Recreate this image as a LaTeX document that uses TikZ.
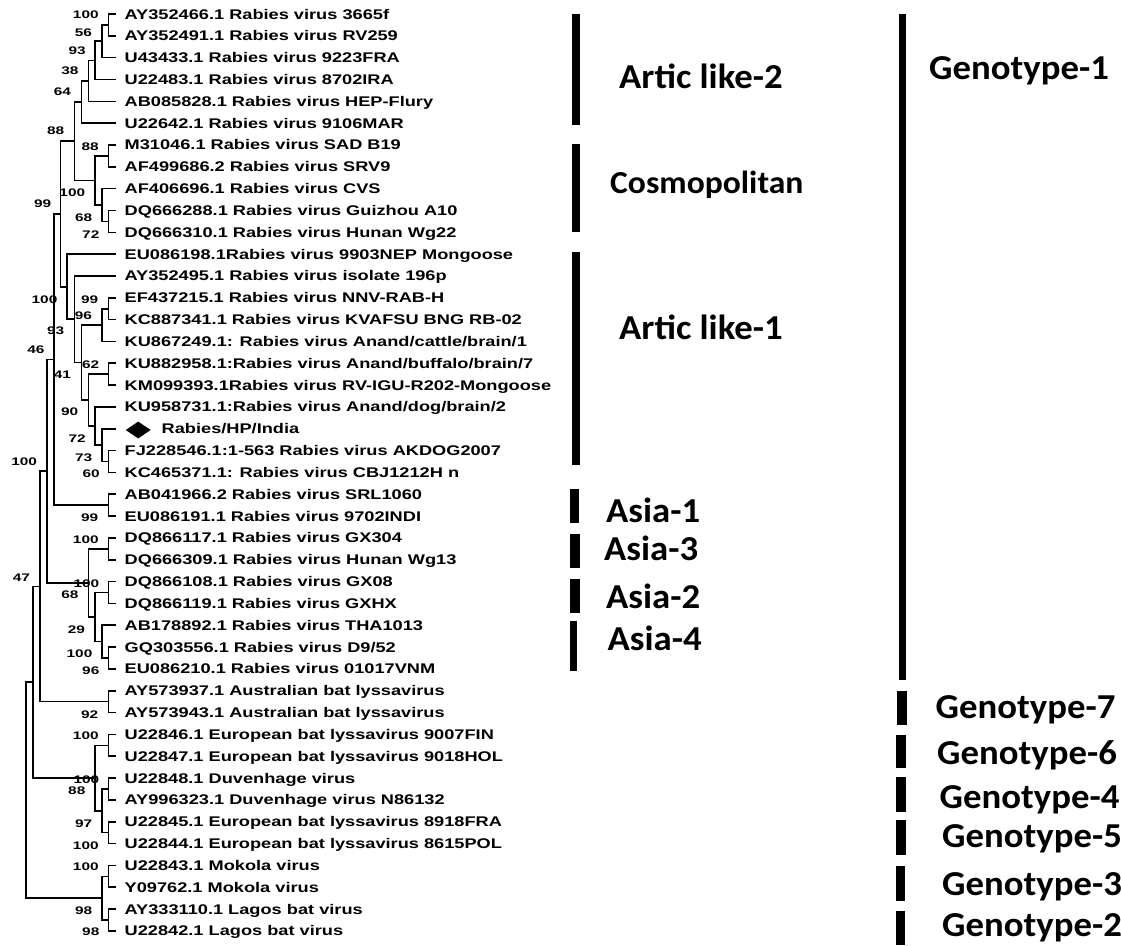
\documentclass[tikz,border=0pt]{standalone}
\usepackage{fontspec}
\newfontfamily\leaffont{Liberation Sans}[FakeStretch=1.3]
\newfontfamily\bootfont{Liberation Sans}[FakeStretch=1.4]
\newfontfamily\cladefont{Carlito}[FakeStretch=1.05]
\usetikzlibrary{shapes.geometric}
\tikzset{
  branch/.style={line width=1.6pt},
  leaf/.style={anchor=west, inner xsep=8.5pt, inner ysep=0pt,
               text height=10pt, text depth=0pt,
               font=\leaffont\bfseries\fontsize{14}{14}\selectfont},
  boot/.style={inner sep=0pt, font=\bootfont\bfseries\fontsize{11}{11}\selectfont},
  cladebar/.style={line width=#1},
  cladelabel/.style={anchor=west, inner sep=0pt, text height=22pt, text depth=0pt,
                     font=\cladefont\bfseries\fontsize{35}{35}\selectfont},
  hpmark/.style={diamond, fill=black, inner sep=0pt,
                 minimum width=25pt, minimum height=17pt},
}

\begin{document}
\begin{tikzpicture}[x=1pt, y=-1pt]
  \useasboundingbox (0,0) rectangle (1121,945);

  \node[leaf] (l1)  at (116,14.00)  {AY352466.1 Rabies virus 3665f};
  \node[leaf] (l2)  at (116,35.83)  {AY352491.1 Rabies virus RV259};
  \node[leaf] (l3)  at (116,57.66)  {U43433.1 Rabies virus 9223FRA};
  \node[leaf] (l4)  at (116,79.49)  {U22483.1 Rabies virus 8702IRA};
  \node[leaf] (l5)  at (116,101.32) {AB085828.1 Rabies virus HEP-Flury};
  \node[leaf] (l6)  at (116,123.15) {U22642.1 Rabies virus 9106MAR};
  \node[leaf] (l7)  at (116,144.98) {M31046.1 Rabies virus SAD B19};
  \node[leaf] (l8)  at (116,166.81) {AF499686.2 Rabies virus SRV9};
  \node[leaf] (l9)  at (116,188.64) {AF406696.1 Rabies virus CVS};
  \node[leaf] (l10) at (116,210.47) {DQ666288.1 Rabies virus Guizhou A10};
  \node[leaf] (l11) at (116,232.30) {DQ666310.1 Rabies virus Hunan Wg22};
  \node[leaf] (l12) at (116,254.13) {EU086198.1Rabies virus 9903NEP Mongoose};
  \node[leaf] (l13) at (116,275.96) {AY352495.1 Rabies virus isolate 196p};
  \node[leaf] (l14) at (116,297.79) {EF437215.1 Rabies virus NNV-RAB-H};
  \node[leaf] (l15) at (116,319.62) {KC887341.1 Rabies virus KVAFSU BNG RB-02};
  \node[leaf] (l16) at (116,341.45) {KU867249.1: Rabies virus Anand/cattle/brain/1};
  \node[leaf] (l17) at (116,363.28) {KU882958.1:Rabies virus Anand/buffalo/brain/7};
  \node[leaf] (l18) at (116,385.11) {KM099393.1Rabies virus RV-IGU-R202-Mongoose};
  \node[leaf] (l19) at (116,406.94) {KU958731.1:Rabies virus Anand/dog/brain/2};
  \coordinate (t20) at (116,428.77);
  \node[hpmark] (hp) at (138.2,430) {};
  \node[leaf, inner xsep=0pt] (l20) at (161.5,428.77) {Rabies/HP/India};
  \node[leaf] (l21) at (116,450.60) {FJ228546.1:1-563 Rabies virus AKDOG2007};
  \node[leaf] (l22) at (116,472.43) {KC465371.1: Rabies virus CBJ1212H n};
  \node[leaf] (l23) at (116,494.26) {AB041966.2 Rabies virus SRL1060};
  \node[leaf] (l24) at (116,516.09) {EU086191.1 Rabies virus 9702INDI};
  \node[leaf] (l25) at (116,537.92) {DQ866117.1 Rabies virus GX304};
  \node[leaf] (l26) at (116,559.75) {DQ666309.1 Rabies virus Hunan Wg13};
  \node[leaf] (l27) at (116,581.58) {DQ866108.1 Rabies virus GX08};
  \node[leaf] (l28) at (116,603.41) {DQ866119.1 Rabies virus GXHX};
  \node[leaf] (l29) at (116,625.24) {AB178892.1 Rabies virus THA1013};
  \node[leaf] (l30) at (116,647.07) {GQ303556.1 Rabies virus D9/52};
  \node[leaf] (l31) at (116,668.90) {EU086210.1 Rabies virus 01017VNM};
  \node[leaf] (l32) at (116,690.73) {AY573937.1 Australian bat lyssavirus};
  \node[leaf] (l33) at (116,712.56) {AY573943.1 Australian bat lyssavirus};
  \node[leaf] (l34) at (116,734.39) {U22846.1 European bat lyssavirus 9007FIN};
  \node[leaf] (l35) at (116,756.22) {U22847.1 European bat lyssavirus 9018HOL};
  \node[leaf] (l36) at (116,778.05) {U22848.1 Duvenhage virus};
  \node[leaf] (l37) at (116,799.88) {AY996323.1 Duvenhage virus N86132};
  \node[leaf] (l38) at (116,821.71) {U22845.1 European bat lyssavirus 8918FRA};
  \node[leaf] (l39) at (116,843.54) {U22844.1 European bat lyssavirus 8615POL};
  \node[leaf] (l40) at (116,865.37) {U22843.1 Mokola virus};
  \node[leaf] (l41) at (116,887.20) {Y09762.1 Mokola virus};
  \node[leaf] (l42) at (116,909.03) {AY333110.1 Lagos bat virus};
  \node[leaf] (l43) at (116,930.86) {U22842.1 Lagos bat virus};

  \coordinate (n1)  at (108.5,24.92);
  \coordinate (n2)  at (101.9,41.29);
  \coordinate (n3)  at (95.1,60.39);
  \coordinate (n4)  at (88.3,80.86);
  \coordinate (n5)  at (81.6,102.0);
  \coordinate (n6)  at (108.5,155.9);
  \coordinate (n7)  at (108.5,221.39);
  \coordinate (n8)  at (101.9,205.01);
  \coordinate (n9)  at (95.1,180.46);
  \coordinate (n10) at (74.4,141.23);
  \coordinate (n11) at (108.5,308.71);
  \coordinate (n12) at (101.9,325.08);
  \coordinate (n13) at (108.5,374.2);
  \coordinate (n14) at (108.5,461.52);
  \coordinate (n15) at (101.9,445.14);
  \coordinate (n16) at (95.1,426.04);
  \coordinate (n17) at (88.3,400.12);
  \coordinate (n18) at (81.6,362.6);
  \coordinate (n19) at (74.4,319.28);
  \coordinate (n20) at (67.2,286.71);
  \coordinate (n21) at (60.4,213.97);
  \coordinate (n22) at (108.5,505.18);
  \coordinate (n23) at (53.7,359.58);
  \coordinate (n24) at (108.5,548.84);
  \coordinate (n25) at (108.5,592.5);
  \coordinate (n26) at (108.5,657.99);
  \coordinate (n27) at (101.9,641.62);
  \coordinate (n28) at (95.1,617.06);
  \coordinate (n29) at (88.3,582.95);
  \coordinate (n30) at (46.9,471.27);
  \coordinate (n31) at (108.5,701.65);
  \coordinate (n32) at (40.2,586.46);
  \coordinate (n33) at (108.5,745.31);
  \coordinate (n34) at (108.5,788.97);
  \coordinate (n35) at (108.5,832.63);
  \coordinate (n36) at (101.9,810.8);
  \coordinate (n37) at (95.1,778.06);
  \coordinate (n38) at (33,682.26);
  \coordinate (n39) at (108.5,876.29);
  \coordinate (n40) at (108.5,919.95);
  \coordinate (n41) at (101.9,898.12);
  \coordinate (n42) at (26.2,790.19);

  \foreach \p/\c in {n1/l1.west, n1/l2.west, n2/n1, n2/l3.west, n3/n2, n3/l4.west,
      n4/n3, n4/l5.west, n5/n4, n5/l6.west, n6/l7.west, n6/l8.west,
      n7/l10.west, n7/l11.west, n8/l9.west, n8/n7, n9/n6, n9/n8, n10/n5, n10/n9,
      n11/l14.west, n11/l15.west, n12/n11, n12/l16.west, n13/l17.west, n13/l18.west,
      n14/l21.west, n14/l22.west, n15/t20, n15/n14, n16/l19.west, n16/n15,
      n17/n13, n17/n16, n18/n12, n18/n17, n19/l13.west, n19/n18,
      n20/l12.west, n20/n19, n21/n10, n21/n20, n22/l23.west, n22/l24.west,
      n23/n21, n23/n22, n24/l25.west, n24/l26.west, n25/l27.west, n25/l28.west,
      n26/l30.west, n26/l31.west, n27/l29.west, n27/n26, n28/n25, n28/n27,
      n29/n24, n29/n28, n30/n23, n30/n29, n31/l32.west, n31/l33.west,
      n32/n30, n32/n31, n33/l34.west, n33/l35.west, n34/l36.west, n34/l37.west,
      n35/l38.west, n35/l39.west, n36/n34, n36/n35, n37/n33, n37/n36,
      n38/n32, n38/n37, n39/l40.west, n39/l41.west, n40/l42.west, n40/l43.west,
      n41/n39, n41/n40, n42/n38, n42/n41}
    \draw[branch] (\p) |- (\c);

  \foreach \bx/\by/\bv [count=\k] in {85.8/15/100, 83.5/32.3/56, 77.2/50.7/93,
      70/71/38, 62.5/91.7/64, 55.6/131/88, 90.2/146.7/88, 72.3/192.7/100,
      42.7/203.3/99, 83.6/217.3/68, 90.8/234.3/72, 44.5/299.3/100, 89.7/299.3/99,
      83.5/316/96, 55.6/330.7/93, 35.9/349.3/46, 90.6/365/62, 62.4/375/41,
      69.6/411.7/90, 77.2/439/72, 83.6/457.7/73, 91.2/473.3/60, 24.2/461.7/100,
      89.7/517.3/99, 85.8/539.3/100, 21.5/577.3/47, 86.4/583.3/100, 70/595/68,
      76.5/630/29, 79.5/654/100, 90.8/670.7/96, 89.7/715/92, 85.8/736/100,
      86.4/780/100, 76.8/790.7/88, 83.6/824/97, 85.8/845.7/100, 85.8/866.7/100,
      83.6/910.7/98, 90.8/931.7/98}
    \node[boot] (bs\k) at (\bx,\by) {\bv};

  \foreach \bx/\ya/\yb/\bw in {576/14/125/8pt, 576/144/232/8pt, 576/252/465/8pt,
      574.4/489.3/522.7/8.7pt, 574.9/534.3/568.3/9.7pt, 574.9/579/613.3/9.7pt,
      573.6/620.7/670.7/7.2pt, 902/14/680/7pt, 902.3/690.7/725/9.7pt,
      900.7/735/768.3/10pt, 900.7/777.3/811.7/10pt, 900.7/820/855/10pt,
      900.2/866/900.7/9pt, 900.7/910.7/945/9.3pt}
    \draw[cladebar=\bw] (\bx,\ya) -- (\bx,\yb);

  \foreach \lx/\ly/\lt [count=\k] in {619/77/Artic like-2,
      619/328/Artic like-1, 606/511/Asia-1, 604/549/Asia-3, 606/597.5/Asia-2,
      607.5/639.5/Asia-4, 929/68/Genotype-1, 935.5/707.5/Genotype-7,
      937/753.5/Genotype-6, 939.5/797/Genotype-4, 942/836/Genotype-5,
      942/884/Genotype-3, 942/925.5/Genotype-2}
    \node[cladelabel] (cl\k) at (\lx,\ly) {\lt};
  \node[cladelabel, text height=20pt,
        font=\cladefont\bfseries\fontsize{32}{32}\selectfont] (cosmo) at (610,183) {Cosmopolitan};
\end{tikzpicture}
\end{document}
